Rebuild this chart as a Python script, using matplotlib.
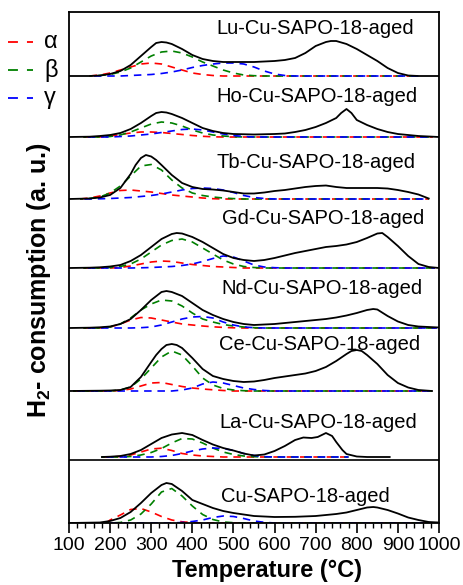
import matplotlib
matplotlib.use("Agg")
import matplotlib.pyplot as plt
from matplotlib.lines import Line2D
from matplotlib.ticker import MultipleLocator

plt.rcParams["font.family"] = ["Liberation Sans", "DejaVu Sans"]
plt.rcParams["mathtext.fontset"] = "custom"
plt.rcParams["mathtext.rm"] = "Liberation Sans"
plt.rcParams["mathtext.bf"] = "Liberation Sans:bold"

# ---- data (H2 consumption, a.u.) ----
labels = ["Lu-Cu-SAPO-18-aged", "Ho-Cu-SAPO-18-aged", "Tb-Cu-SAPO-18-aged",
          "Gd-Cu-SAPO-18-aged", "Nd-Cu-SAPO-18-aged", "Ce-Cu-SAPO-18-aged",
          "La-Cu-SAPO-18-aged", "Cu-SAPO-18-aged"]

# measured profiles
lu_T = [100, 150, 175, 200, 225, 250, 275, 300, 312, 325, 337, 350, 375, 400, 425, 450, 475, 500, 550, 600,
        625, 650, 675, 700, 725, 737, 750, 775, 800, 825, 850, 875, 900, 925, 950, 1000]
lu_h = [0, 0, 0.5, 2, 5, 11, 20, 29, 33, 34, 33.5, 32, 27, 21, 17, 15, 14, 14, 14, 15,
        16, 18, 23, 30, 34, 35, 35, 32, 27, 21, 15, 8, 3, 0.5, 0, 0]
ho_T = [100, 150, 175, 200, 225, 250, 275, 300, 312, 325, 337, 350, 375, 400, 425, 450, 475, 500, 550, 600,
        625, 650, 675, 700, 725, 750, 762, 775, 787, 800, 825, 850, 875, 900, 925, 950, 975, 1000]
ho_h = [0, 0.3, 1, 2, 4, 8, 14, 21, 24, 25, 24.5, 23, 19, 14, 9, 6, 4, 3, 2.5, 3,
        3.5, 5, 7, 10, 14, 19, 24, 28, 24, 17, 12, 8, 5, 3, 2, 1, 0.5, 0]
tb_T = [100, 150, 175, 200, 225, 250, 262, 275, 287, 300, 312, 325, 350, 375, 400, 425, 450, 475, 500, 525,
        550, 575, 600, 625, 650, 675, 700, 725, 750, 775, 800, 850, 875, 900, 925, 950, 975]
tb_h = [0, 0.5, 1.5, 4, 11, 25, 34, 41, 44, 42.5, 39, 34, 24, 16, 12, 10, 9.5, 8.5, 7, 5.5,
        5.5, 6.5, 8, 9, 10.5, 12, 13, 13.5, 12, 11, 11, 11, 10.5, 9, 7, 4.5, 0.5]
gd_T = [100, 150, 175, 200, 225, 250, 275, 300, 325, 350, 362, 375, 400, 425, 450, 475, 500, 525, 550, 575,
        600, 625, 650, 675, 700, 725, 750, 775, 800, 825, 850, 862, 875, 900, 925, 950, 975, 1000]
gd_h = [0, 0.3, 0.7, 1.5, 3, 7, 13, 21, 29, 34, 35, 34.5, 31, 26, 20, 14, 10, 8, 7, 8,
        10, 12.5, 15, 17, 19, 21, 22, 23.5, 26, 30, 34.5, 35, 31, 22, 12, 4, 1, 0]
nd_T = [100, 150, 175, 200, 225, 250, 275, 300, 325, 337, 350, 375, 400, 425, 450, 475, 500, 525, 550, 575,
        600, 625, 650, 675, 700, 725, 750, 775, 800, 825, 840, 850, 875, 900, 925, 950, 975, 1000]
nd_h = [0, 0.3, 0.7, 1.5, 4, 9, 18, 28, 36, 37, 36, 32, 25, 18, 13, 9, 6, 4, 3, 3.5,
        4, 5, 6, 7, 8, 9, 10.5, 12.5, 15, 18, 19, 18.5, 12, 6.5, 3, 1.5, 1, 0.5]
ce_T = [100, 175, 200, 225, 250, 275, 300, 312, 325, 337, 350, 362, 375, 400, 425, 450, 475, 500, 525, 550,
        575, 600, 625, 650, 675, 700, 725, 750, 775, 787, 800, 812, 825, 850, 875, 900, 925, 950, 983]
ce_h = [0, 0.3, 0.5, 1, 4, 14, 29, 36, 42, 46, 47, 46, 43, 33, 22, 15, 12, 10, 9, 9.5,
        11, 13, 14.5, 16, 17.5, 20, 24, 30, 37, 40, 41, 40, 36, 27, 16, 8, 3.5, 1, 0]
la_T = [180, 200, 225, 250, 275, 300, 325, 350, 375, 400, 425, 450, 475, 500, 525, 550, 575, 600, 625, 650,
        670, 690, 705, 725, 740, 750, 765, 775, 800, 825, 880]
la_h = [0, 0.3, 1, 3, 7, 13, 19, 22.5, 24, 22, 17, 12.5, 9, 6.5, 3.5, 1.5, 2.5, 6, 11, 17,
        19.5, 19, 20, 24, 21, 15, 7, 3, 0.5, 0, 0]
cu_T = [100, 175, 200, 225, 250, 275, 300, 325, 337, 350, 375, 400, 425, 450, 475, 500, 525, 550, 575, 600,
        650, 700, 725, 750, 775, 800, 825, 840, 850, 875, 900, 925, 950, 975, 1000]
cu_h = [0, 0.5, 2, 5, 11, 20, 30, 38, 40, 39, 32, 23, 19, 15, 12, 10, 8.5, 7, 6.5, 6,
        6.2, 7, 8, 9, 10.5, 13, 15.5, 16, 15.5, 13, 9.5, 5.5, 3, 1, 0.5]

# fitted components (alpha, beta, gamma) on a shared temperature grid
comp_T = [150, 175, 200, 225, 250, 275, 300, 325, 350, 375, 400, 425, 450, 475, 500, 525, 550, 575, 600, 625, 650]

lu_alpha = [0, 1, 3, 6, 9, 12, 13, 12, 9, 6, 3, 1.5, 0.5, 0, 0, 0, 0, 0, 0, 0, 0]
lu_beta = [0, 0.5, 1.5, 4, 8, 14, 20, 24, 25, 23, 19, 14, 10, 6, 3, 1, 0.3, 0, 0, 0, 0]
lu_gamma = [0, 0, 0, 0, 0.5, 1, 1.5, 2.5, 4, 6, 8.5, 10.5, 12, 13, 13, 12, 9, 5, 2, 0.5, 0]
ho_alpha = [0, 0, 1, 2.5, 4, 5, 5, 4.5, 3.5, 2.5, 1.5, 0.7, 0.2, 0, 0, 0, 0, 0, 0, 0, 0]
ho_beta = [0, 0, 0.5, 2, 5, 9, 13, 15, 14, 11, 7, 4, 2, 1, 0.3, 0, 0, 0, 0, 0, 0]
ho_gamma = [0, 0, 0, 0.5, 1, 2, 3, 4.5, 6, 7.5, 8, 7, 5, 3, 1.5, 0.5, 0, 0, 0, 0, 0]
tb_alpha = [1, 3, 6, 8.5, 9, 8, 7, 5.5, 4, 3, 2, 1, 0.3, 0, 0, 0, 0, 0, 0, 0, 0]
tb_beta = [0.5, 2, 6, 13, 23, 33, 34.5, 29, 19, 11, 6, 3.5, 2, 1, 0.4, 0, 0, 0, 0, 0, 0]
tb_gamma = [0, 0.2, 0.5, 1, 1.5, 2.5, 3.5, 5, 7, 9, 10.5, 11, 10.5, 9, 6.5, 3.5, 1.5, 0.5, 0, 0, 0]
gd_alpha = [0, 0, 0, 0.5, 2, 4, 6, 7, 6.5, 5, 3.5, 2.5, 1.5, 1, 0.5, 0, 0, 0, 0, 0, 0]
gd_beta = [0, 0, 0.5, 1.5, 4, 9, 16, 23, 27.5, 29, 26, 20, 14, 8, 4, 1.5, 0.5, 0, 0, 0, 0]
gd_gamma = [0, 0, 0, 0, 0, 0.2, 0.5, 1, 1.5, 2.5, 4, 6.5, 9.5, 12, 11, 7, 3, 1, 0.3, 0, 0]
nd_alpha = [0, 0, 1, 4, 8, 10.5, 10, 8, 6, 4, 3, 2, 1.2, 0.6, 0.2, 0, 0, 0, 0, 0, 0]
nd_beta = [0, 0, 1, 4, 10, 18, 24, 28, 27, 22, 15, 9, 6, 3.5, 2, 1, 0.3, 0, 0, 0, 0]
nd_gamma = [0, 0, 0, 0, 0, 0.3, 1, 3, 6, 9, 11, 11.5, 10, 6, 3, 1, 0.3, 0, 0, 0, 0]
ce_alpha = [0, 0, 0, 0.5, 2, 5, 8, 8.5, 6.5, 4.5, 3, 2, 1.2, 0.5, 0, 0, 0, 0, 0, 0, 0]
ce_beta = [0, 0, 0, 1, 4, 12, 23, 34, 40, 36, 25, 13, 6, 2.5, 1, 0.3, 0, 0, 0, 0, 0]
ce_gamma = [0, 0, 0, 0, 0, 0, 0, 0, 0, 1, 3, 7, 9, 8, 5.5, 3, 1.5, 0.5, 0, 0, 0]
la_alpha = [0, 0, 0, 0.5, 2, 5, 8, 8.8, 6.5, 3.5, 2, 1, 0.5, 0, 0, 0, 0, 0, 0, 0, 0]
la_beta = [0, 0, 0, 0, 0.5, 2, 4.5, 8.5, 14, 18.5, 18, 14, 9, 5, 2.5, 1, 0.3, 0, 0, 0, 0]
la_gamma = [0, 0, 0, 0, 0, 0, 0, 0.5, 1.5, 3.5, 6, 8, 9, 8.5, 6.5, 3.5, 1.5, 0.3, 0, 0, 0]
cu_alpha = [0, 0, 3, 8, 13.5, 14.5, 11, 6.5, 3, 1.2, 0.4, 0, 0, 0, 0, 0, 0, 0, 0, 0, 0]
cu_beta = [0, 0, 0, 0.5, 3, 9, 19, 31, 34.5, 27, 17, 8.5, 3.5, 1, 0.3, 0, 0, 0, 0, 0, 0]
cu_gamma = [0, 0, 0, 0, 0, 0, 0, 0, 0, 0.5, 1.5, 3, 5.5, 7, 6.5, 4.5, 2, 0.7, 0, 0, 0]

# temperature span of the fitted components in each panel
comp_start = [150, 135, 127, 135, 135, 110, 180, 190]
comp_end = [950, 985, 975, 990, 995, 983, 780, 1000]

totals = [(lu_T, lu_h), (ho_T, ho_h), (tb_T, tb_h), (gd_T, gd_h),
          (nd_T, nd_h), (ce_T, ce_h), (la_T, la_h), (cu_T, cu_h)]
comps = [(lu_alpha, lu_beta, lu_gamma), (ho_alpha, ho_beta, ho_gamma), (tb_alpha, tb_beta, tb_gamma),
         (gd_alpha, gd_beta, gd_gamma), (nd_alpha, nd_beta, nd_gamma), (ce_alpha, ce_beta, ce_gamma),
         (la_alpha, la_beta, la_gamma), (cu_alpha, cu_beta, cu_gamma)]

# ---- layout ----
offsets = [447, 386, 324, 255, 195, 132, 66, 0]
label_x = [458, 458, 458, 473, 470, 465, 465, 470]
label_y = [494, 426, 360, 305, 234, 179, 100, 26]
comp_colors = ["#ff0000", "#008000", "#0000ff"]
comp_names = ["\u03b1", "\u03b2", "\u03b3"]
comp_dash = [(0, (4.5, 3.5)), (2.7, (4.5, 3.5)), (5.4, (4.5, 3.5))]

fig = plt.figure(figsize=(4.63, 5.85), dpi=100)
ax = fig.add_axes([69 / 463, 62 / 585, 370 / 463, 511 / 585])

for i in range(len(labels)):
    off = offsets[i]
    T, h = totals[i]
    ax.plot(T, [v + off for v in h], color="black", lw=1.3, zorder=3,
            solid_joinstyle="round")
    s, e = comp_start[i], comp_end[i]
    for j, vals in enumerate(comps[i]):
        xs = [s] + [t for t in comp_T if s < t < e] + [e]
        ys = [0] + [v for t, v in zip(comp_T, vals) if s < t < e] + [0]
        ax.plot(xs, [v + off for v in ys], color=comp_colors[j], lw=1.2,
                linestyle=comp_dash[j], zorder=2)
    ax.text(label_x[i], label_y[i], labels[i], fontsize=14.5, ha="left", va="center")

# separator under the La panel
ax.axhline(63, color="black", lw=1.2)

ax.set_xlim(100, 1000)
ax.set_ylim(0, 511)
ax.set_xticks(range(100, 1001, 100))
ax.xaxis.set_minor_locator(MultipleLocator(20))
ax.tick_params(axis="x", which="major", direction="out", length=7, width=1.2, labelsize=14, pad=3)
ax.tick_params(axis="x", which="minor", direction="out", length=3.5, width=1.0)
ax.set_yticks([])
for sp in ax.spines.values():
    sp.set_linewidth(1.3)

fig.text(267 / 463, 1 - 571 / 585, "Temperature (\u00b0C)", fontsize=17, fontweight="bold",
         ha="center", va="center")
fig.text(39 / 463, 1 - 280 / 585, r"H$_\mathbf{2}$- consumption (a. u.)", fontsize=18,
         fontweight="bold", rotation=90, ha="center", va="center")

# legend drawn by hand to the left of the panels
for j in range(3):
    y = 1 - (42 + 28 * j) / 585
    fig.add_artist(Line2D([8 / 463, 33 / 463], [y, y], transform=fig.transFigure,
                          color=comp_colors[j], lw=1.3, linestyle=(0, (5.5, 5))))
    fig.text(44 / 463, y, comp_names[j], fontsize=17, ha="left", va="center")

fig.savefig("out.png", dpi=100)
